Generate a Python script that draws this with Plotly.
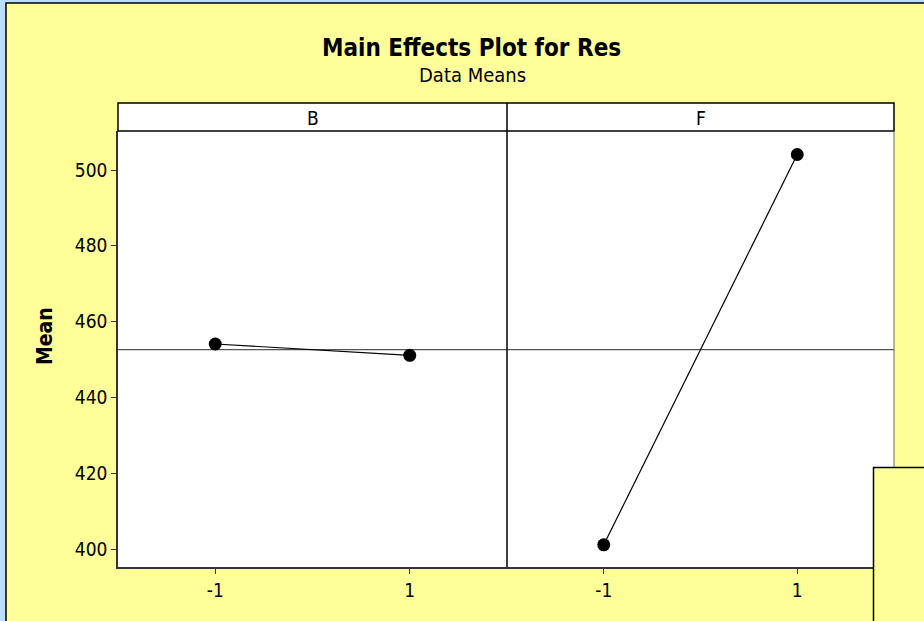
import plotly.graph_objects as go

# Factor levels and mean responses
factors = ["B", "F"]
levels = [-1, 1]
means_B = [454.1, 451.1]
means_F = [401.1, 504.1]
y_ticks = [400, 420, 440, 460, 480, 500]

grand_mean = (sum(means_B) + sum(means_F)) / 4

W, H = 924, 621
L, R, T, B = 118, 894, 103, 567
STRIP_BOTTOM = 131
DIV = 507


def px(x):
    return (x - L) / (R - L)


def py(y):
    return (B - y) / (B - T)


FONT = "DejaVu Sans Condensed, Liberation Sans, sans-serif"
YELLOW = "#FFFF99"
BLUE = "#BBDDFF"
TICK_SIZE = 19

fig = go.Figure()

for i, (name, vals) in enumerate(zip(factors, [means_B, means_F])):
    xa = "x" if i == 0 else "x2"
    # reference line at the overall mean
    fig.add_trace(go.Scatter(
        x=[-2, 2], y=[grand_mean, grand_mean], xaxis=xa, yaxis="y",
        mode="lines", line=dict(color="#555555", width=1.2),
        showlegend=False, hoverinfo="skip",
    ))
    fig.add_trace(go.Scatter(
        x=levels, y=vals, xaxis=xa, yaxis="y", mode="lines+markers",
        line=dict(color="black", width=1.2),
        marker=dict(color="black", size=13),
        showlegend=False, hoverinfo="skip",
    ))

shapes = [
    # yellow background frame
    dict(type="rect", xref="paper", yref="paper", layer="below",
         x0=px(6), x1=px(W + 10), y0=py(H + 10), y1=py(3),
         fillcolor=YELLOW, line=dict(color="black", width=1.5)),
    # white plotting region
    dict(type="rect", xref="paper", yref="paper", layer="below",
         x0=0, x1=1, y0=0, y1=py(STRIP_BOTTOM),
         fillcolor="white", line=dict(width=0)),
    # strip boxes
    dict(type="rect", xref="paper", yref="paper", layer="above",
         x0=0, x1=1, y0=py(STRIP_BOTTOM), y1=1,
         fillcolor="white", line=dict(color="black", width=1.5)),
    # panel divider
    dict(type="line", xref="paper", yref="paper", layer="above",
         x0=px(DIV), x1=px(DIV), y0=0, y1=1,
         line=dict(color="black", width=1.5)),
    # right border
    dict(type="line", xref="paper", yref="paper", layer="above",
         x0=1, x1=1, y0=0, y1=py(STRIP_BOTTOM),
         line=dict(color="#666666", width=1)),
    # overlapping box in the lower right corner
    dict(type="rect", xref="paper", yref="paper", layer="above",
         x0=px(873.5), x1=px(W + 10), y0=py(H + 10), y1=py(467.5),
         fillcolor=YELLOW, line=dict(color="black", width=1.5)),
]

annotations = [
    dict(text="<b>Main Effects Plot for Res</b>", xref="paper", yref="paper",
         x=px(471), y=py(48), showarrow=False,
         font=dict(size=24, family=FONT, color="black"),
         xanchor="center", yanchor="middle"),
    dict(text="Data Means", xref="paper", yref="paper",
         x=px(472), y=py(75), showarrow=False,
         font=dict(size=20, family=FONT, color="black"),
         xanchor="center", yanchor="middle"),
    dict(text="<b>Mean</b>", xref="paper", yref="paper",
         x=px(45), y=py(336), showarrow=False, textangle=-90,
         font=dict(size=21, family=FONT, color="black"),
         xanchor="center", yanchor="middle"),
]
for name, cx in zip(factors, [(L + DIV) / 2, (DIV + R) / 2]):
    annotations.append(dict(
        text=name, xref="paper", yref="paper", x=px(cx), y=py(118),
        showarrow=False, font=dict(size=TICK_SIZE, family=FONT, color="black"),
        xanchor="center", yanchor="middle"))

axis_common = dict(
    range=[-2, 2], tickvals=levels, ticktext=["-1", "1"],
    ticks="outside", ticklen=5, tickcolor="#333333",
    showgrid=False, zeroline=False, showline=True, linecolor="#333333",
    linewidth=1.5, tickfont=dict(size=TICK_SIZE, family=FONT, color="black"),
    anchor="y", fixedrange=True,
)

fig.update_layout(
    width=W, height=H,
    margin=dict(l=L, r=W - R, t=T, b=H - B),
    paper_bgcolor=BLUE,
    plot_bgcolor="rgba(0,0,0,0)",
    shapes=shapes,
    annotations=annotations,
    xaxis=dict(domain=[0, px(DIV)], **axis_common),
    xaxis2=dict(domain=[px(DIV), 1], **axis_common),
    yaxis=dict(
        domain=[0, py(STRIP_BOTTOM)],
        range=[395.25, 510.3], tickvals=y_ticks,
        ticks="outside", ticklen=5, tickcolor="#333333",
        showgrid=False, zeroline=False, showline=True,
        linecolor="#333333", linewidth=1.5,
        tickfont=dict(size=TICK_SIZE, family=FONT, color="black"),
        fixedrange=True,
    ),
    font=dict(family=FONT),
)

fig.write_html("out.html", config={"displayModeBar": False})
